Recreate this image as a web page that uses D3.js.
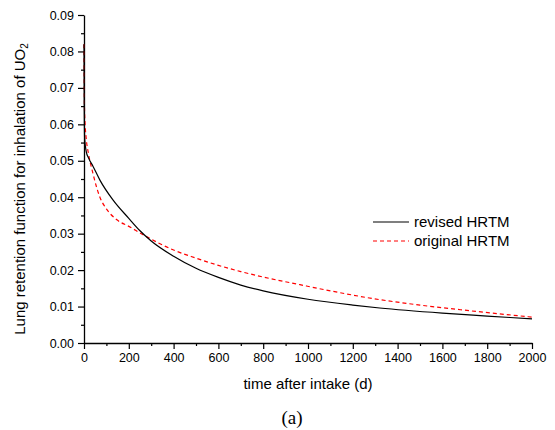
<!DOCTYPE html>
<html>
<head>
<meta charset="utf-8">
<script src="https://cdn.jsdelivr.net/npm/d3@7"></script>
<style>
  body { margin: 0; background: #fff; }
  svg text { font-family: Arial, "Liberation Sans", sans-serif; }
</style>
</head>
<body>
<div id="chart"></div>
<script>
// Values (time in days, retention fraction)
var revisedDays = [0, 1, 3, 10, 20, 40, 71, 130, 200, 250, 300, 400, 500, 600, 700, 800, 1000, 1200, 1320, 1600, 1800, 2000];
var revisedValues = [0.082, 0.066, 0.056, 0.0525, 0.0508, 0.0485, 0.0447, 0.0392, 0.0342, 0.0308, 0.028, 0.0238, 0.0205, 0.018, 0.0159, 0.0143, 0.012, 0.0104, 0.0096, 0.0082, 0.0074, 0.0066];

var originalDays = [0, 2, 5, 10, 20, 40, 71, 100, 147, 200, 270, 400, 500, 600, 700, 800, 964, 1100, 1320, 1500, 1700, 2000];
var originalValues = [0.082, 0.065, 0.06, 0.056, 0.052, 0.0465, 0.040, 0.0368, 0.0338, 0.032, 0.0295, 0.0255, 0.0233, 0.0213, 0.0196, 0.0181, 0.016, 0.0143, 0.0119, 0.0104, 0.009, 0.0071];

var xTicks = [0, 200, 400, 600, 800, 1000, 1200, 1400, 1600, 1800, 2000];
var yTicks = [0, 0.01, 0.02, 0.03, 0.04, 0.05, 0.06, 0.07, 0.08, 0.09];
var legendLabels = ["revised HRTM", "original HRTM"];

var revised = revisedDays.map(function(t, i) { return { t: t, v: revisedValues[i] }; });
var original = originalDays.map(function(t, i) { return { t: t, v: originalValues[i] }; });

var margin = { top: 15, right: 23, bottom: 87, left: 84 };
var width = 555 - margin.left - margin.right;
var height = 430 - margin.top - margin.bottom;

var svg = d3.select("#chart")
  .append("svg")
  .attr("width", 555)
  .attr("height", 430)
  .append("g")
  .attr("transform", "translate(" + margin.left + "," + margin.top + ")");

var x = d3.scaleLinear().domain([0, 2000]).range([0, width]);
var y = d3.scaleLinear().domain([0, 0.09]).range([height, 0]);

// minor ticks first, then the labelled axes on top
svg.append("g")
  .attr("transform", "translate(0," + height + ")")
  .call(d3.axisBottom(x).tickValues(d3.range(100, 2000, 200)).tickSize(3).tickFormat(""))
  .call(function(g) { g.select(".domain").remove(); })
  .selectAll("line").attr("stroke-width", 1.2);

svg.append("g")
  .call(d3.axisLeft(y).tickValues(d3.range(0.005, 0.09, 0.01)).tickSize(3).tickFormat(""))
  .call(function(g) { g.select(".domain").remove(); })
  .selectAll("line").attr("stroke-width", 1.2);

var xAxis = svg.append("g")
  .attr("transform", "translate(0," + height + ")")
  .call(d3.axisBottom(x).tickValues(xTicks).tickSize(6).tickSizeOuter(0).tickPadding(4).tickFormat(d3.format("d")));

var yAxis = svg.append("g")
  .call(d3.axisLeft(y).tickValues(yTicks).tickSize(6).tickSizeOuter(0).tickPadding(4).tickFormat(d3.format(".2f")));

[xAxis, yAxis].forEach(function(a) {
  a.selectAll("text").style("font-size", "12.5px").style("fill", "#000");
  a.selectAll("line").attr("stroke-width", 1.2);
  a.select(".domain").attr("stroke-width", 1.3);
});

var line = d3.line()
  .x(function(d) { return x(d.t); })
  .y(function(d) { return y(d.v); })
  .curve(d3.curveMonotoneX);

svg.append("path")
  .datum(original)
  .attr("fill", "none")
  .attr("stroke", "#ff0000")
  .attr("stroke-width", 1.2)
  .attr("stroke-dasharray", "4,3")
  .attr("d", line);

svg.append("path")
  .datum(revised)
  .attr("fill", "none")
  .attr("stroke", "#000")
  .attr("stroke-width", 1.2)
  .attr("d", line);

// Legend
var legend = svg.append("g").attr("transform", "translate(" + (373 - margin.left) + "," + (222 - margin.top) + ")");
legendLabels.forEach(function(label, i) {
  var row = legend.append("g").attr("transform", "translate(0," + (i * 19) + ")");
  row.append("line")
    .attr("x1", 0).attr("x2", 36)
    .attr("stroke", i === 0 ? "#000" : "#ff0000")
    .attr("stroke-width", 1.2)
    .attr("stroke-dasharray", i === 0 ? null : "4,3");
  row.append("text")
    .attr("x", 41)
    .attr("dy", ".35em")
    .style("font-size", "15px")
    .text(label);
});

// Axis titles
svg.append("text")
  .attr("x", width / 2)
  .attr("y", 389 - margin.top)
  .style("text-anchor", "middle")
  .style("font-size", "15px")
  .text("time after intake (d)");

var yTitle = svg.append("text")
  .attr("transform", "translate(" + (25 - margin.left) + "," + (189 - margin.top) + ") rotate(-90)")
  .style("text-anchor", "middle")
  .style("font-size", "15px")
  .text("Lung retention function for inhalation of UO");
yTitle.append("tspan")
  .attr("dy", "0.3em")
  .style("font-size", "10px")
  .text("2");

svg.append("text")
  .attr("x", 292 - margin.left)
  .attr("y", 424 - margin.top)
  .style("text-anchor", "middle")
  .style("font-family", "'Liberation Serif', 'Times New Roman', serif")
  .style("font-size", "19px")
  .text("(a)");
</script>
</body>
</html>
